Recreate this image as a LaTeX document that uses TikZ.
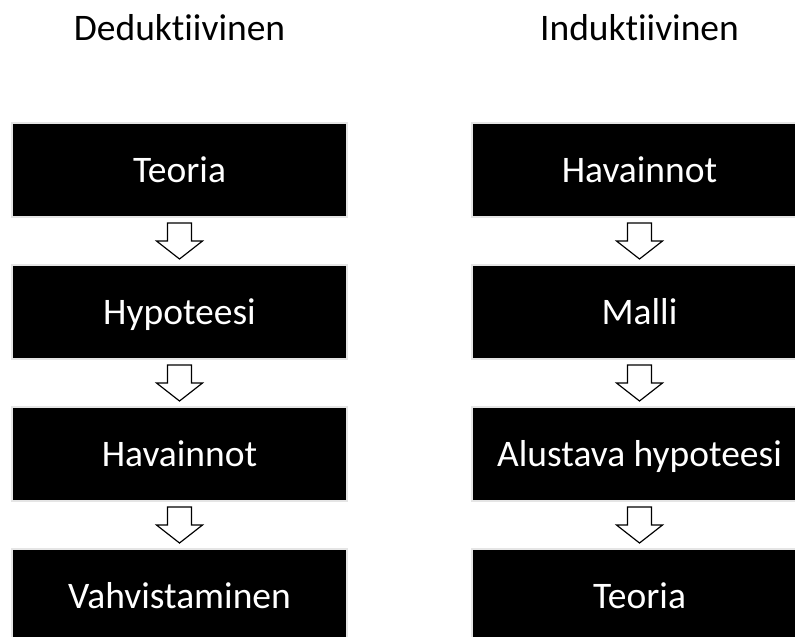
\documentclass[tikz,border=0pt]{standalone}
\usepackage{fontspec}
\setmainfont{Carlito}[Ligatures={NoCommon}]
\usepackage{xcolor}
\usepackage{tikz}
\usetikzlibrary{calc}

\begin{document}
\begin{tikzpicture}[
    box/.style={draw=gray!20, line width=1.5pt, fill=black, text=white, minimum width=10.05cm, minimum height=2.82cm, text height=20.5pt, text depth=0pt, align=center, font=\fontsize{32}{38}\selectfont},
    head/.style={anchor=base, font=\fontsize{32}{38}\selectfont},
    downarrow/.pic={\draw[fill=white, line width=1pt, line join=miter] (-0.36,0.54) -- (0.36,0.54) -- (0.36,0) -- (0.69,0) -- (0,-0.54) -- (-0.69,0) -- (-0.36,0) -- cycle;}
]
    \useasboundingbox (0,0) rectangle (23.85,-19.08);
    % column titles
    \node[head] (ded) at (5.385,-1.2) {Deduktiivinen};
    \node[head] (ind) at (19.185,-1.2) {Induktiivinen};
    % deductive
    \node[box] (d1) at (5.385,-5.1) {Teoria};
    \node[box] (d2) at (5.385,-9.36) {Hypoteesi};
    \node[box] (d3) at (5.385,-13.62) {Havainnot};
    \node[box] (d4) at (5.385,-17.88) {Vahvistaminen};
    % inductive
    \node[box] (i1) at (19.185,-5.1) {Havainnot};
    \node[box] (i2) at (19.185,-9.36) {Malli};
    \node[box] (i3) at (19.185,-13.62) {Alustava hypoteesi};
    \node[box] (i4) at (19.185,-17.88) {Teoria};
    % arrows
    \foreach \a/\b in {d1/d2, d2/d3, d3/d4, i1/i2, i2/i3, i3/i4}
        \pic at ($(\a.south)!0.5!(\b.north)$) {downarrow};
\end{tikzpicture}
\end{document}
